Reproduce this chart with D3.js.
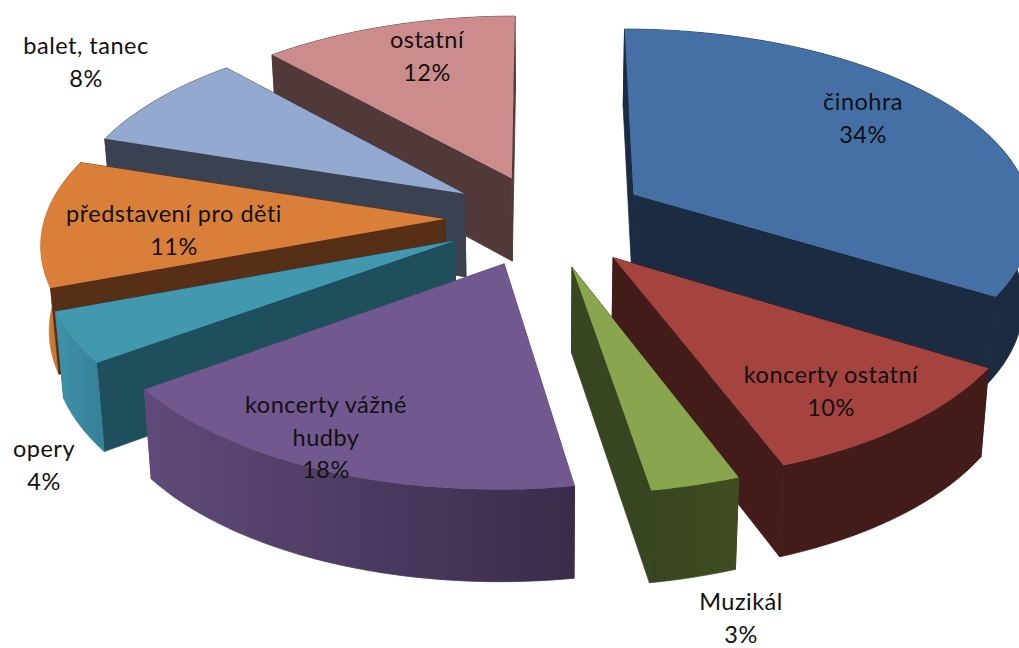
<!DOCTYPE html>
<html>
<head>
	<meta charset="utf-8">
	<script src="https://d3js.org/d3.v7.min.js"></script>
	<style>
		html, body { margin: 0; padding: 0; background: #fff; overflow: hidden; }
		text { font-family: Lato, "Open Sans", sans-serif; font-size: 23.5px; letter-spacing: 0.5px; fill: #111; text-anchor: middle; }
	</style>
</head>
<body>
	<svg></svg>
<script type="text/javascript">
	// data, clockwise from 12 o'clock
	var categories = ["činohra", "koncerty ostatní", "Muzikál", "koncerty vážné hudby", "opery", "představení pro děti", "balet, tanec", "ostatní"];
	var values = [33.8, 10.45, 3.15, 17.6, 4.3, 10.7, 8.3, 11.7];

	// colours per slice: top face, radial walls, outer wall left and right end
	var topColors = ["#4470a6", "#a5433f", "#89a54e", "#71588f", "#4198af", "#d97f3a", "#93a9cf", "#cd8c8c"];
	var sideColors = ["#1a2b42", "#431b19", "#374520", "#5e4a78", "#1f4e5c", "#562f16", "#3a4150", "#523939"];
	var rimLeft = ["#1a2b42", "#431b19", "#374520", "#5f4a79", "#3f93aa", "#d07c38", "#3a4150", "#523939"];
	var rimRight = ["#1a2b42", "#431b19", "#414c20", "#392c4a", "#378299", "#b8702f", "#3a4150", "#523939"];

	// how far each slice is pulled out, in pie radii
	var explode = [0.26, 0.265, 0.262, 0.255, 0.25, 0.2475, 0.24, 0.23];
	// back to front
	var drawOrder = [7, 6, 5, 4, 3, 0, 1, 2];

	// label position: centre x and first baseline
	var labelLines = [["činohra"], ["koncerty ostatní"], ["Muzikál"], ["koncerty vážné", "hudby"], ["opery"], ["představení pro děti"], ["balet, tanec"], ["ostatní"]];
	var labelX = [863, 831, 741, 326, 44, 174, 86, 427];
	var labelY = [110, 383, 610, 413, 457, 222, 54, 48];

	var width = 1019, height = 648;
	var cx = 544, cy = 218, rx = 400, ry = 189, persp = 0.113;
	var depth = 84, depthPersp = 0.072, shrink = 0.983;

	var svg = d3.select("svg").attr("width", width).attr("height", height).style("display", "block");
	var defs = svg.append("defs");
	var line = d3.line();
	var color = d3.scaleOrdinal().domain(categories).range(topColors);

	// pie plane (x right, y away from viewer) to screen
	function project(x, y, low) {
		var w = 1 + persp * y;
		var sx = cx + rx * x / w;
		var sy = cy - ry * y / w;
		if (low) {
			sx = cx + (sx - cx) * shrink;
			sy += depth / (1 + depthPersp * y);
		}
		return [sx, sy];
	}

	var arcs = d3.pie().sort(null).value(function(d) { return d; })(values);
	var total = d3.sum(values);

	drawOrder.forEach(function(i) {
		var a = arcs[i];
		var mid = (a.startAngle + a.endAngle) / 2;
		var ox = explode[i] * Math.sin(mid);
		var oy = explode[i] * Math.cos(mid);

		var steps = d3.range(0, 61).map(function(k) {
			var t = a.startAngle + (a.endAngle - a.startAngle) * k / 60;
			return [ox + Math.sin(t), oy + Math.cos(t)];
		});
		var topRim = steps.map(function(p) { return project(p[0], p[1], false); });
		var lowRim = steps.map(function(p) { return project(p[0], p[1], true); });
		var apexTop = project(ox, oy, false);
		var apexLow = project(ox, oy, true);

		var gid = "rim" + i;
		var grad = defs.append("linearGradient").attr("id", gid)
			.attr("gradientUnits", "userSpaceOnUse")
			.attr("x1", d3.min(topRim, function(p) { return p[0]; })).attr("y1", 0)
			.attr("x2", d3.max(topRim, function(p) { return p[0]; })).attr("y2", 0);
		grad.append("stop").attr("offset", 0).attr("stop-color", rimLeft[i]);
		grad.append("stop").attr("offset", 1).attr("stop-color", rimRight[i]);

		var last = steps.length - 1;
		var walls = [
			{pts: [apexTop, topRim[0], lowRim[0], apexLow], y: oy + Math.cos(a.startAngle) / 2, fill: sideColors[i]},
			{pts: [apexTop, topRim[last], lowRim[last], apexLow], y: oy + Math.cos(a.endAngle) / 2, fill: sideColors[i]},
			{pts: topRim.concat(lowRim.slice().reverse()), y: oy + Math.cos(mid), fill: "url(#" + gid + ")"}
		];
		walls.sort(function(p, q) { return q.y - p.y; });

		var g = svg.append("g");
		walls.forEach(function(w) {
			g.append("path").attr("d", line(w.pts) + "Z").attr("fill", w.fill).attr("stroke", w.fill).attr("stroke-width", 0.8);
		});
		g.append("path")
			.attr("d", line([apexTop].concat(topRim)) + "Z")
			.attr("fill", color(categories[i]));
	});

	// labels on top of all slices
	categories.forEach(function(c, i) {
		var lines = labelLines[i].concat([Math.round(values[i] / total * 100) + "%"]);
		lines.forEach(function(t, k) {
			svg.append("text")
				.attr("x", labelX[i])
				.attr("y", labelY[i] + k * 32.5)
				.text(t);
		});
	});
</script>
</body>
</html>
